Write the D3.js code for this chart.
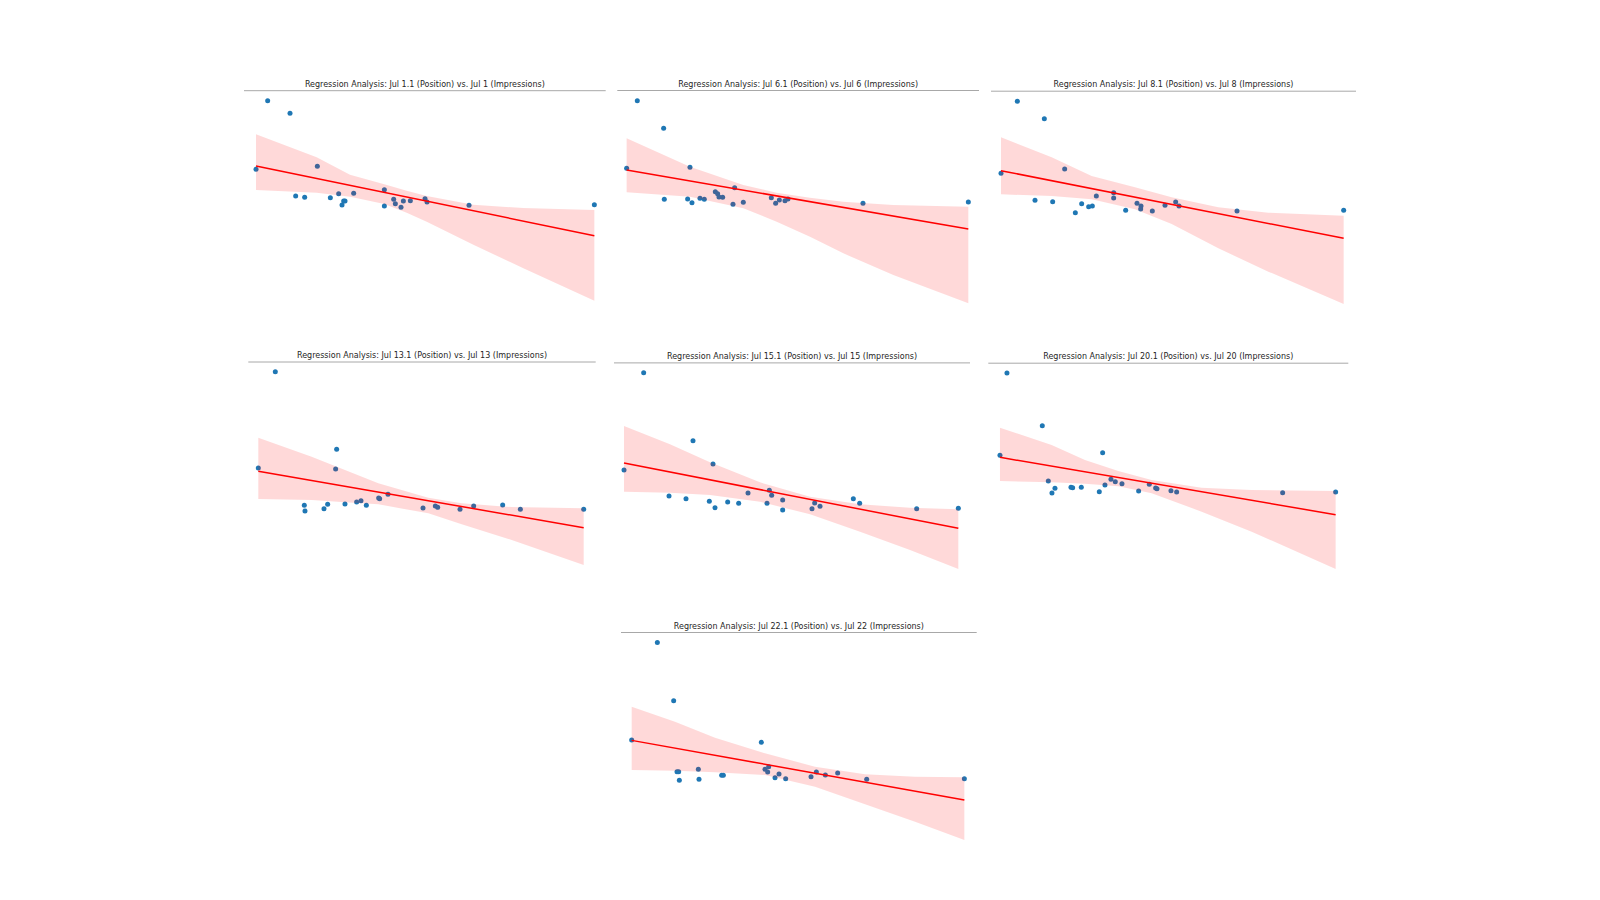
<!DOCTYPE html>
<html>
<head>
<meta charset="utf-8">
<script src="https://cdn.jsdelivr.net/npm/d3@7"></script>
<style>
  html, body { margin: 0; padding: 0; background: #ffffff; }
  svg { display: block; }
</style>
</head>
<body>
<svg id="chart" width="1600" height="900"></svg>
<script>
// ---------------- DATA ----------------
const dates = ["Jul 1", "Jul 6", "Jul 8", "Jul 13", "Jul 15", "Jul 20", "Jul 22"];

// Position (x) and Impressions (y), per day
const position_jul1 = [4.8,8.3,15.0,23.2,16.7,19.4,27.1,29.6,30.6,31.1,31.5,34.1,43.3,43.3,46.1,46.6,48.3,49.0,51.1,55.5,56.1,68.7,106.3];
const impressions_jul1 = [502,708,670,511,422,418,417,429,395,407,407,430,441,392,412,399,388,407,408,414,404,394,396];

const position_jul6 = [5.0,8.2,16.1,24.0,16.3,23.3,24.6,27.0,28.3,31.6,32.3,32.7,33.8,37.4,36.9,40.0,48.4,49.7,50.8,52.5,53.4,75.9,107.5];
const impressions_jul6 = [505,708,625,508,412,413,402,415,412,435,429,419,418,447,397,403,417,400,410,408,413,400,404];

const position_jul8 = [4.8,9.7,17.8,23.9,15.0,20.3,27.1,29.0,31.1,32.2,33.4,38.6,38.6,42.2,45.6,46.8,46.7,50.2,54.0,57.2,58.2,75.6,107.6];
const impressions_jul8 = [490,706,654,503,409,405,372,399,390,392,422,432,416,379,400,392,383,377,394,404,392,377,379];

const position_jul13 = [4.0,9.1,27.5,27.2,17.8,18.0,23.7,24.8,30.0,33.5,34.8,36.4,40.1,40.4,42.9,53.4,57.1,57.8,64.5,68.6,77.3,82.6,101.6];
const impressions_jul13 = [431,720,487,428,319,302,309,322,323,329,333,319,341,339,352,311,317,313,307,317,320,307,307];

const position_jul15 = [4.2,10.1,24.9,30.9,17.7,22.8,29.8,31.5,35.3,38.6,41.4,47.1,47.8,48.5,51.8,51.8,60.6,61.4,63.0,73.0,74.9,92.0,104.5];
const impressions_jul15 = [425,717,513,443,347,339,331,312,329,325,356,325,364,349,335,305,309,326,316,339,325,309,310];

const position_jul20 = [4.5,6.6,17.2,35.3,19.0,20.1,21.0,25.8,26.3,28.9,34.3,36.0,37.8,39.1,41.1,46.1,49.3,51.2,51.6,55.8,57.5,89.3,105.2];
const impressions_jul20 = [469,716,558,477,392,356,370,373,372,373,360,380,397,390,384,362,382,371,369,363,359,357,359];

const position_jul22 = [5.0,12.7,17.6,43.9,18.6,19.1,19.3,25.0,25.2,32.0,32.5,45.0,45.8,46.1,48.0,49.2,51.2,58.8,60.4,63.1,66.8,75.5,104.8];
const impressions_jul22 = [425,718,543,418,330,330,304,337,307,319,319,337,329,345,312,323,309,315,329,320,326,307,309];

// Fitted regression line: predicted impressions at first and last position
const fit_jul1 = [512, 303];
const fit_jul6 = [500, 323];
const fit_jul8 = [498, 295];
const fit_jul13 = [421, 252];
const fit_jul15 = [446, 250];
const fit_jul20 = [463, 291];
const fit_jul22 = [424, 245];

// 95% confidence band: positions, upper and lower bounds
const bandX_jul1 = [4.8, 23, 33, 43.3, 50, 56, 70, 85, 106.3];
const bandHi_jul1 = [607, 538, 486, 457, 438, 422, 396, 386, 380];
const bandLo_jul1 = [440, 432, 420, 398, 372, 345, 276, 205, 108];

const bandX_jul6 = [5.0, 24, 40, 50, 60, 70, 85, 107.5];
const bandHi_jul6 = [595, 510, 455, 432, 417, 405, 395, 390];
const bandLo_jul6 = [433, 420, 385, 345, 300, 250, 185, 100];

const bandX_jul8 = [4.8, 20, 32, 45, 56, 70, 85, 107.6];
const bandHi_jul8 = [598, 538, 482, 448, 418, 388, 372, 363];
const bandLo_jul8 = [427, 422, 412, 382, 338, 265, 195, 98];

const bandX_jul13 = [4.0, 20, 30, 40, 55, 65, 80, 101.6];
const bandHi_jul13 = [522, 465, 425, 385, 342, 325, 314, 310];
const bandLo_jul13 = [338, 335, 328, 322, 295, 262, 215, 140];

const bandX_jul15 = [4.2, 18, 30, 45, 60, 75, 90, 104.5];
const bandHi_jul15 = [557, 502, 448, 388, 345, 322, 312, 307];
const bandLo_jul15 = [360, 357, 350, 330, 292, 240, 185, 128];

const bandX_jul20 = [4.5, 20, 30, 40, 50, 65, 80, 105.2];
const bandHi_jul20 = [552, 500, 455, 422, 395, 372, 365, 362];
const bandLo_jul20 = [392, 388, 384, 376, 355, 300, 240, 128];

const bandX_jul22 = [5.0, 18, 30, 45, 60, 75, 90, 104.8];
const bandHi_jul22 = [525, 480, 432, 385, 345, 322, 315, 313];
const bandLo_jul22 = [335, 333, 328, 320, 285, 232, 180, 125];

// ---------------- LAYOUT (pixel boxes & x-limits) ----------------
const layout = [
  { left: 244.0, right: 605.7, top: 90.7,  bottom: 310.7, xlim: [1.2, 109.7] },
  { left: 617.3, right: 979.0, top: 90.5,  bottom: 313.5, xlim: [2.2, 110.7] },
  { left: 991.0, right: 1356.0, top: 91.2, bottom: 314.1, xlim: [1.8, 111.3] },
  { left: 248.3, right: 595.7, top: 362.0, bottom: 574.7, xlim: [1.0, 105.2] },
  { left: 614.0, right: 970.0, top: 362.9, bottom: 578.8, xlim: [1.2, 108.0] },
  { left: 988.3, right: 1348.3, top: 363.2, bottom: 578.8, xlim: [1.0, 109.0] },
  { left: 621.0, right: 976.7, top: 632.5, bottom: 849.9, xlim: [1.8, 108.5] }
];

const panels = [
  { x: position_jul1,  y: impressions_jul1,  fit: fit_jul1,  bx: bandX_jul1,  hi: bandHi_jul1,  lo: bandLo_jul1 },
  { x: position_jul6,  y: impressions_jul6,  fit: fit_jul6,  bx: bandX_jul6,  hi: bandHi_jul6,  lo: bandLo_jul6 },
  { x: position_jul8,  y: impressions_jul8,  fit: fit_jul8,  bx: bandX_jul8,  hi: bandHi_jul8,  lo: bandLo_jul8 },
  { x: position_jul13, y: impressions_jul13, fit: fit_jul13, bx: bandX_jul13, hi: bandHi_jul13, lo: bandLo_jul13 },
  { x: position_jul15, y: impressions_jul15, fit: fit_jul15, bx: bandX_jul15, hi: bandHi_jul15, lo: bandLo_jul15 },
  { x: position_jul20, y: impressions_jul20, fit: fit_jul20, bx: bandX_jul20, hi: bandHi_jul20, lo: bandLo_jul20 },
  { x: position_jul22, y: impressions_jul22, fit: fit_jul22, bx: bandX_jul22, hi: bandHi_jul22, lo: bandLo_jul22 }
];

// ---------------- DRAW ----------------
const svg = d3.select("#chart");

panels.forEach((p, i) => {
  const L = layout[i];
  const allY = p.y.concat(p.hi, p.lo);
  const yMin = d3.min(allY), yMax = d3.max(allY);
  const pad = (yMax - yMin) * 0.05;

  const x = d3.scaleLinear().domain(L.xlim).range([L.left, L.right]);
  const y = d3.scaleLinear().domain([yMin - pad, yMax + pad]).range([L.bottom, L.top]);

  const g = svg.append("g").attr("class", "panel");

  // top spine
  g.append("line")
    .attr("x1", L.left).attr("x2", L.right)
    .attr("y1", L.top).attr("y2", L.top)
    .attr("stroke", "#a8a8a8").attr("stroke-width", 1);

  // title
  g.append("text")
    .attr("x", (L.left + L.right) / 2)
    .attr("y", L.top - 4)
    .attr("text-anchor", "middle")
    .attr("font-family", "DejaVu Sans, sans-serif")
    .attr("font-size", "8px")
    .attr("fill", "#262626")
    .text(`Regression Analysis: ${dates[i]}.1 (Position) vs. ${dates[i]} (Impressions)`);

  // scatter points
  const pts = p.x.map((v, k) => ({ x: v, y: p.y[k] }));
  g.selectAll("circle").data(pts).enter().append("circle")
    .attr("cx", d => x(d.x))
    .attr("cy", d => y(d.y))
    .attr("r", 2.5)
    .attr("fill", "#1f77b4");

  // confidence band
  const band = p.bx.map((v, k) => ({ x: v, hi: p.hi[k], lo: p.lo[k] }));
  const area = d3.area()
    .x(d => x(d.x))
    .y0(d => y(d.lo))
    .y1(d => y(d.hi))
    .curve(d3.curveLinear);
  g.append("path").datum(band)
    .attr("d", area)
    .attr("fill", "red")
    .attr("fill-opacity", 0.15);

  // regression line
  const xr = d3.extent(p.x);
  const lineData = [{ x: xr[0], y: p.fit[0] }, { x: xr[1], y: p.fit[1] }];
  g.append("path").datum(lineData)
    .attr("d", d3.line().x(d => x(d.x)).y(d => y(d.y)))
    .attr("fill", "none")
    .attr("stroke", "red")
    .attr("stroke-width", 1.5);
});
</script>
</body>
</html>
